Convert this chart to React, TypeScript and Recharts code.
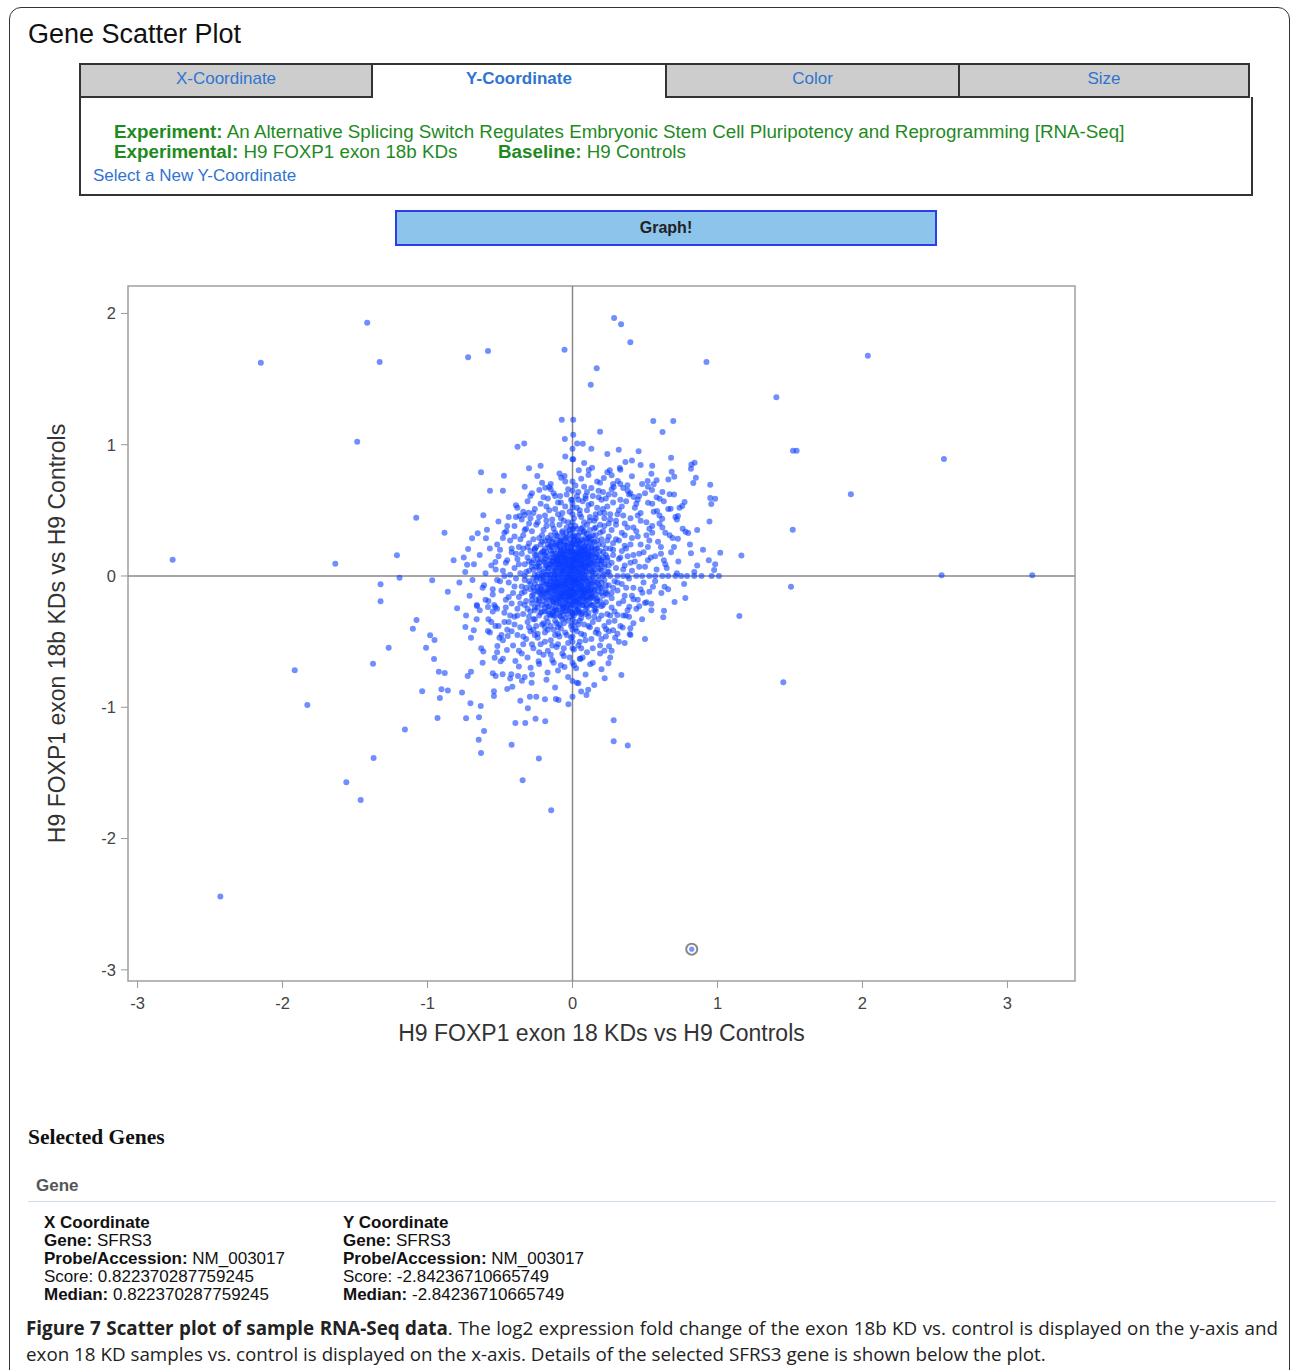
import React from 'react';
import { ScatterChart, Scatter, XAxis, YAxis, ReferenceLine, ReferenceArea, Label } from 'recharts';

const FONT = "'Liberation Sans', Arial, Helvetica, sans-serif";

const xTicks = [-3, -2, -1, 0, 1, 2, 3];
const yTicks = [-3, -2, -1, 0, 1, 2];
const xDomain: [number, number] = [-3.066, 3.466];
const yDomain: [number, number] = [-3.085, 2.209];
const xAxisTitle = 'H9 FOXP1 exon 18 KDs vs H9 Controls';
const yAxisTitle = 'H9 FOXP1 exon 18b KDs vs H9 Controls';
const tabLabels = ['X-Coordinate', 'Y-Coordinate', 'Color', 'Size'];

// Outliers
const outliersUpper: [number, number][] = [
  [-1.416,1.93],[-2.15,1.625],[-1.33,1.63],[-0.72,1.666],[-0.583,1.714],[-0.055,1.724],[-1.485,1.023],[-2.758,0.124],[-1.636,0.094],[-1.211,0.158],[-1.078,0.444],[-0.883,0.33],[-0.074,1.19],[0.005,1.19],[-0.053,1.043],[0.005,1.076],[-0.379,0.985],[-0.333,1.01],[0.005,0.889],[-0.631,0.79],[-0.473,0.764],[-0.569,0.65],[-0.48,0.65],[-0.243,0.762],[-0.078,0.749],[-0.055,0.762],[-0.615,0.462],[-0.511,0.416],[-0.39,0.538],[-0.693,0.287],[-0.72,0.206],[-0.727,0.086],[-0.654,0.325],[-0.597,0.287],[-0.59,0.353],[-0.532,0.107],[-0.456,0.34],[-0.291,0.609],[-0.229,0.655],[-0.188,0.672],[-0.16,0.678],[-0.365,0.457],[-0.33,0.465],[-0.303,0.482],[-0.085,0.609],
  [0.287,1.965],[0.335,1.917],[0.399,1.78],[0.167,1.582],[0.126,1.457],[0.924,1.63],[2.037,1.678],[1.406,1.361],[0.557,1.18],[0.695,1.18],[0.621,1.097],[0.19,1.099],[0.032,1.01],[0.071,1.008],[0.319,0.962],[0.456,0.95],[1.521,0.955],[1.546,0.955],[2.562,0.891],[1.92,0.622],[1.519,0.353],[0.95,0.695],[0.95,0.594],[0.984,0.589],[0.957,0.548],[0.945,0.416],[1.019,0.178],[1.165,0.157],[0.817,0.173],[0.984,0.089],[0.977,0.046],[2.546,0.005],[3.171,0.005],[0.842,0.863],[0.817,0.817],[0.851,0.749],[0.833,0.708],[0.684,0.794],[0.702,0.756],[0.661,0.736],[0.773,0.564],[0.757,0.533],[0.738,0.52],[0.67,0.622],[0.86,0.35],[0.78,0.337],[0.798,0.327],[0.727,0.284],[0.619,0.437],[0.677,0.513],[0.727,0.457],[0.365,0.868],[0.47,0.845],[0.326,0.823],[0.257,0.805],[0.27,0.767],[0.216,0.746],[0.112,0.807],[0.135,0.825],[0.043,0.805],[0.544,0.779],[0.518,0.724],[0.548,0.655],[0.56,0.698],[0.601,0.589],[0.521,0.558],[0.583,0.495],[0.379,0.691],[0.284,0.678],[0.312,0.724],[0.399,0.63],[0.422,0.602]
];

const outliersLower: [number, number][] = [
  [-1.324,-0.063],[-1.324,-0.193],[-1.193,-0.013],[-0.968,-0.033],[-1.076,-0.335],[-1.101,-0.401],[-1.268,-0.546],[-1.376,-0.668],[-1.916,-0.718],[-1.829,-0.982],[-1.156,-1.17],[-1.372,-1.386],[-1.56,-1.571],[-1.461,-1.706],[-2.429,-2.442],[-0.982,-0.452],[-0.952,-0.487],[-1.01,-0.546],[-0.955,-0.632],[-0.922,-0.729],[-0.881,-0.739],[-1.037,-0.878],[-0.904,-0.863],[-0.86,-0.873],[-0.915,-0.929],[-0.931,-1.081],[-0.762,-0.888],[-0.704,-0.97],[-0.633,-0.99],[-0.734,-1.084],[-0.645,-1.076],[-0.61,-1.18],[-0.647,-1.247],[-0.631,-1.348],[-0.42,-1.285],[-0.232,-1.391],[-0.344,-1.556],[-0.147,-1.785],[-0.394,-1.12],[-0.326,-1.12],[-0.255,-1.087],[-0.188,-1.107],[-0.308,-1.008],[-0.19,-0.939],[-0.115,-0.937],[-0.096,-0.944],[-0.542,-0.878],[-0.542,-0.914],[-0.415,-0.843],[-0.294,-0.919],[-0.723,-0.762],[-0.7,-0.729],[-0.615,-0.576],[-0.537,-0.622],[-0.496,-0.65],[-0.53,-0.762],[-0.482,-0.749],[-0.422,-0.749],[-0.376,-0.762],[-0.349,-0.797],[-0.282,-0.813],[-0.028,-0.977],[-0.739,-0.388],[-0.681,-0.414],[-0.661,-0.33],[-0.796,-0.246],[-0.734,-0.3],[-0.659,-0.228],[-0.583,-0.236],[-0.532,-0.236],[-0.583,-0.419],[-0.532,-0.381],[-0.504,-0.47],[-0.447,-0.457],[-0.518,-0.533],[-0.452,-0.564],[-0.394,-0.647],[-0.289,-0.698],[-0.234,-0.65],[-0.172,-0.736],[-0.055,-0.693],[0.03,-0.813],
  [1.507,-0.081],[1.151,-0.305],[1.454,-0.81],[0.778,-0.168],[0.704,-0.198],[0.5,-0.48],[0.337,-0.754],[0.284,-1.099],[0.284,-1.259],[0.381,-1.292],[0.222,-0.779],[0.108,-0.866],[0.096,-0.906],[0.041,-0.817],[0.248,-0.665],[0.122,-0.672],[0.055,-0.63],[0.025,-0.703],[0.19,-0.591],[0.252,-0.535],[0.294,-0.47],[0.394,-0.442],[0.399,-0.398],[0.346,-0.393],[0.626,-0.315],[0.631,-0.264],[0.544,-0.261],[0.544,-0.211],[0.5,-0.206],[0.613,-0.129],[0.555,-0.081],[0.635,-0.081],[0.482,-0.127],[0.42,-0.178],[0.392,-0.234],[0.367,-0.3],[0.31,-0.297],[0.28,-0.414],[0.232,-0.406]
];

// Cluster above the x axis
const clusterUpper: [number, number][] = [
  [-0.22,0.84],[-0.05,0.91],[0.08,0.86],[0.24,0.93],[0.41,0.88],[0.55,0.84],[0.68,0.90],[0.13,0.97],[-0.30,0.82],[0.82,0.85],[0.33,0.81],
  [-0.28,0.63],[-0.21,0.71],[-0.15,0.66],[-0.09,0.78],[-0.04,0.62],[0.02,0.69],[0.06,0.74],[0.09,0.61],[0.13,0.67],[0.17,0.72],[0.21,0.64],[0.24,0.79],[0.29,0.62],[0.33,0.70],[0.38,0.65],[0.41,0.76],[0.46,0.61],[0.52,0.68],[0.58,0.73],[-0.12,0.61],[0.11,0.77],[0.04,0.64],[-0.33,0.68],[0.27,0.66],[0.62,0.64],[0.18,0.60],
  [-0.44,0.45],[-0.38,0.52],[-0.35,0.43],[-0.31,0.57],[-0.27,0.48],[-0.24,0.41],[-0.22,0.55],[-0.19,0.46],[-0.17,0.59],[-0.14,0.43],[-0.12,0.51],[-0.10,0.47],[-0.08,0.56],[-0.06,0.42],[-0.05,0.53],[-0.02,0.49],[-0.01,0.58],[0.01,0.44],[0.03,0.52],[0.05,0.47],[0.07,0.57],[0.08,0.41],[0.10,0.50],[0.12,0.45],[0.13,0.55],[0.15,0.42],[0.17,0.52],[0.19,0.48],[0.20,0.58],[0.22,0.44],[0.24,0.53],[0.26,0.47],[0.28,0.56],[0.30,0.42],[0.32,0.50],[0.35,0.46],[0.37,0.57],[0.40,0.44],[0.43,0.52],[0.47,0.48],[0.51,0.41],[0.55,0.55],[0.60,0.46],[0.66,0.51],[0.72,0.43],[-0.16,0.50],[0.09,0.59],[0.25,0.40],[-0.29,0.44],[0.45,0.58],[0.06,0.45],[-0.03,0.41],[0.16,0.47],[0.34,0.53],
  [-0.52,0.24],[-0.47,0.33],[-0.43,0.27],[-0.40,0.38],[-0.37,0.22],[-0.34,0.31],[-0.32,0.36],[-0.30,0.25],[-0.28,0.34],[-0.26,0.21],[-0.25,0.39],[-0.23,0.29],[-0.22,0.24],[-0.20,0.35],[-0.19,0.27],[-0.18,0.38],[-0.16,0.22],[-0.15,0.31],[-0.14,0.26],[-0.13,0.36],[-0.11,0.23],[-0.10,0.30],[-0.09,0.39],[-0.08,0.27],[-0.07,0.34],[-0.06,0.21],[-0.05,0.29],[-0.04,0.37],[-0.03,0.25],[-0.02,0.32],[-0.01,0.22],[0.00,0.35],[0.01,0.28],[0.02,0.38],[0.03,0.24],[0.04,0.31],[0.05,0.21],[0.06,0.36],[0.07,0.27],[0.08,0.33],[0.09,0.23],[0.10,0.39],[0.11,0.29],[0.12,0.35],[0.13,0.22],[0.14,0.31],[0.15,0.26],[0.16,0.37],[0.18,0.24],[0.19,0.33],[0.20,0.28],[0.22,0.38],[0.23,0.21],[0.25,0.30],[0.27,0.35],[0.28,0.25],[0.30,0.39],[0.32,0.27],[0.34,0.33],[0.36,0.23],[0.38,0.37],[0.41,0.29],[0.44,0.34],[0.47,0.24],[0.51,0.31],[0.55,0.38],[0.59,0.26],[0.64,0.33],[0.70,0.22],[0.76,0.36],[-0.17,0.29],[-0.12,0.33],[-0.06,0.26],[0.02,0.30],[0.07,0.37],[0.13,0.28],[0.17,0.21],[0.21,0.34],[-0.21,0.31],[-0.09,0.24],[-0.01,0.38],[0.04,0.26],[0.10,0.32],[0.15,0.36],[-0.27,0.28],[0.24,0.27],[-0.04,0.33],[0.08,0.21],[0.19,0.39],[-0.14,0.39],
  [-0.56,0.08],[-0.51,0.15],[-0.48,0.04],[-0.45,0.12],[-0.42,0.18],[-0.40,0.06],[-0.38,0.13],[-0.36,0.02],[-0.35,0.17],[-0.33,0.09],[-0.31,0.14],[-0.30,0.04],[-0.29,0.19],[-0.28,0.07],[-0.27,0.12],[-0.26,0.01],[-0.25,0.16],[-0.24,0.09],[-0.23,0.05],[-0.22,0.13],[-0.21,0.18],[-0.20,0.03],[-0.19,0.10],[-0.18,0.15],[-0.17,0.06],[-0.16,0.12],[-0.15,0.01],[-0.15,0.19],[-0.14,0.08],[-0.13,0.14],[-0.12,0.04],[-0.12,0.17],[-0.11,0.10],[-0.10,0.06],[-0.10,0.15],[-0.09,0.02],[-0.08,0.12],[-0.08,0.19],[-0.07,0.08],[-0.06,0.14],[-0.06,0.04],[-0.05,0.17],[-0.04,0.10],[-0.04,0.01],[-0.03,0.13],[-0.02,0.07],[-0.02,0.18],[-0.01,0.04],[0.00,0.11],[0.00,0.16],[0.01,0.02],[0.02,0.09],[0.02,0.14],[0.03,0.06],[0.04,0.18],[0.04,0.11],[0.05,0.03],[0.06,0.15],[0.06,0.08],[0.07,0.12],[0.08,0.01],[0.08,0.17],[0.09,0.06],[0.10,0.13],[0.11,0.09],[0.11,0.19],[0.12,0.03],[0.13,0.15],[0.14,0.07],[0.15,0.11],[0.16,0.02],[0.16,0.17],[0.17,0.09],[0.18,0.14],[0.19,0.05],[0.20,0.12],[0.21,0.18],[0.22,0.07],[0.24,0.14],[0.25,0.03],[0.27,0.10],[0.28,0.16],[0.30,0.06],[0.32,0.13],[0.34,0.19],[0.36,0.08],[0.38,0.15],[0.41,0.04],[0.43,0.11],[0.46,0.17],[0.50,0.07],[0.54,0.14],[0.58,0.05],[0.63,0.12],[0.68,0.18],[-0.19,0.16],[-0.17,0.01],[-0.14,0.11],[-0.11,0.05],[-0.09,0.16],[-0.07,0.03],[-0.05,0.09],[-0.03,0.19],[-0.01,0.13],[0.01,0.08],[0.03,0.16],[0.05,0.12],[0.07,0.05],[0.09,0.10],[0.10,0.18],[0.12,0.08],[0.14,0.16],[-0.06,0.11],[-0.02,0.03],[0.01,0.12],[0.04,0.07],[-0.08,0.07],[-0.13,0.02],[-0.03,0.05],[0.06,0.19],[-0.10,0.12],[0.03,0.01],[-0.05,0.14],[0.00,0.06],[-0.16,0.09],[0.08,0.14],[-0.12,0.13],[0.13,0.04],[-0.07,0.17],[0.02,0.18],[-0.01,0.09],[-0.04,0.06],[0.05,0.16],[-0.09,0.09],[0.11,0.14],[-0.02,0.11],[0.07,0.09],
  [-0.82,0.12],[-0.74,0.03],[-0.68,0.09],[-0.64,0.16],[-0.60,0.02],[-0.57,0.21],[-0.53,0.05],[-0.75,0.14],
  [0.52,0.22],[0.61,0.17],[0.65,0.06],[0.69,0.29],[0.73,0.11],[0.81,0.24],[0.86,0.08],[0.90,0.20],[0.62,0.37],[0.72,0.02],[0.55,0.33],[0.84,0.03],[0.94,0.12]
];

// Cluster below the x axis
const clusterLower: [number, number][] = [
  [-0.61,-0.07],[-0.55,-0.14],[-0.52,-0.03],[-0.49,-0.11],[-0.46,-0.18],[-0.44,-0.05],[-0.41,-0.13],[-0.39,-0.02],[-0.37,-0.16],[-0.35,-0.08],[-0.33,-0.12],[-0.32,-0.19],[-0.30,-0.04],[-0.29,-0.10],[-0.28,-0.15],[-0.26,-0.06],[-0.25,-0.18],[-0.24,-0.01],[-0.23,-0.12],[-0.22,-0.08],[-0.21,-0.15],[-0.20,-0.03],[-0.19,-0.11],[-0.18,-0.17],[-0.17,-0.06],[-0.16,-0.13],[-0.15,-0.02],[-0.14,-0.09],[-0.14,-0.19],[-0.13,-0.05],[-0.12,-0.14],[-0.11,-0.08],[-0.10,-0.02],[-0.10,-0.17],[-0.09,-0.11],[-0.08,-0.05],[-0.07,-0.15],[-0.07,-0.01],[-0.06,-0.09],[-0.05,-0.18],[-0.05,-0.04],[-0.04,-0.12],[-0.03,-0.07],[-0.02,-0.16],[-0.02,-0.02],[-0.01,-0.10],[0.00,-0.05],[0.00,-0.14],[0.01,-0.19],[0.02,-0.08],[0.03,-0.03],[0.03,-0.13],[0.04,-0.17],[0.05,-0.06],[0.06,-0.11],[0.07,-0.02],[0.07,-0.15],[0.08,-0.08],[0.09,-0.18],[0.10,-0.04],[0.11,-0.12],[0.12,-0.07],[0.13,-0.16],[0.14,-0.01],[0.15,-0.10],[0.16,-0.14],[0.17,-0.05],[0.19,-0.19],[0.20,-0.09],[0.22,-0.03],[0.23,-0.13],[0.25,-0.07],[0.27,-0.17],[0.29,-0.04],[0.31,-0.11],[0.34,-0.06],[0.36,-0.15],[0.39,-0.02],[0.42,-0.09],[0.45,-0.18],[0.49,-0.05],[0.53,-0.12],[-0.27,-0.02],[-0.23,-0.19],[-0.20,-0.07],[-0.17,-0.10],[-0.15,-0.16],[-0.12,-0.03],[-0.11,-0.18],[-0.09,-0.07],[-0.08,-0.13],[-0.06,-0.03],[-0.04,-0.09],[-0.03,-0.18],[-0.01,-0.05],[0.01,-0.12],[0.02,-0.01],[0.04,-0.09],[0.05,-0.15],[0.06,-0.04],[0.08,-0.12],[0.10,-0.16],[0.11,-0.06],[0.13,-0.10],[0.15,-0.04],[0.18,-0.12],[-0.13,-0.11],[-0.10,-0.09],[-0.06,-0.13],[-0.03,-0.01],[-0.01,-0.15],[0.02,-0.06],[0.04,-0.02],[-0.08,-0.17],[-0.05,-0.08],[0.00,-0.09],[0.06,-0.08],[-0.14,-0.06],[-0.02,-0.11],[0.09,-0.03],[-0.18,-0.04],[0.12,-0.14],[-0.07,-0.06],[0.03,-0.16],[-0.04,-0.15],[0.07,-0.10],[-0.10,-0.13],[0.01,-0.03],[-0.16,-0.18],[0.17,-0.17],[-0.21,-0.11],[0.21,-0.15],[-0.12,-0.07],[0.09,-0.13],
  [-0.64,-0.26],[-0.58,-0.33],[-0.54,-0.22],[-0.51,-0.38],[-0.47,-0.28],[-0.44,-0.35],[-0.42,-0.21],[-0.40,-0.31],[-0.38,-0.25],[-0.36,-0.39],[-0.34,-0.29],[-0.33,-0.22],[-0.31,-0.35],[-0.29,-0.27],[-0.28,-0.21],[-0.27,-0.33],[-0.25,-0.38],[-0.24,-0.24],[-0.23,-0.30],[-0.21,-0.22],[-0.20,-0.36],[-0.19,-0.27],[-0.18,-0.32],[-0.16,-0.23],[-0.15,-0.38],[-0.14,-0.29],[-0.13,-0.21],[-0.12,-0.34],[-0.11,-0.26],[-0.10,-0.39],[-0.09,-0.23],[-0.08,-0.31],[-0.07,-0.27],[-0.06,-0.36],[-0.05,-0.21],[-0.04,-0.29],[-0.03,-0.34],[-0.02,-0.25],[-0.01,-0.38],[0.00,-0.22],[0.01,-0.30],[0.02,-0.35],[0.03,-0.26],[0.05,-0.21],[0.06,-0.32],[0.07,-0.28],[0.08,-0.37],[0.10,-0.24],[0.11,-0.31],[0.13,-0.22],[0.14,-0.35],[0.16,-0.27],[0.18,-0.33],[0.20,-0.23],[0.22,-0.38],[0.24,-0.29],[0.27,-0.24],[0.29,-0.34],[0.32,-0.21],[0.35,-0.30],[0.38,-0.26],[0.42,-0.36],[0.46,-0.23],[-0.22,-0.28],[-0.17,-0.35],[-0.13,-0.30],[-0.09,-0.37],[-0.06,-0.24],[-0.03,-0.22],[0.00,-0.33],[0.04,-0.37],[0.09,-0.29],[0.12,-0.39],[0.17,-0.22],[-0.26,-0.26],[-0.19,-0.39],[-0.07,-0.33],[0.02,-0.28],[0.07,-0.22],[-0.12,-0.25],[0.15,-0.31],[-0.30,-0.31],[0.25,-0.35],[-0.16,-0.29],[-0.01,-0.27],
  [-0.70,-0.47],[-0.63,-0.55],[-0.57,-0.43],[-0.52,-0.58],[-0.48,-0.49],[-0.45,-0.41],[-0.41,-0.53],[-0.38,-0.45],[-0.35,-0.59],[-0.32,-0.48],[-0.29,-0.42],[-0.27,-0.55],[-0.24,-0.47],[-0.22,-0.52],[-0.19,-0.43],[-0.17,-0.57],[-0.15,-0.49],[-0.13,-0.41],[-0.11,-0.54],[-0.09,-0.46],[-0.07,-0.59],[-0.05,-0.43],[-0.03,-0.51],[-0.01,-0.47],[0.01,-0.56],[0.03,-0.42],[0.05,-0.50],[0.08,-0.45],[0.10,-0.58],[0.13,-0.48],[0.16,-0.43],[0.19,-0.53],[0.23,-0.46],[0.27,-0.57],[0.31,-0.44],[0.36,-0.51],[-0.20,-0.60],[-0.34,-0.52],[-0.10,-0.44],[0.06,-0.55],[-0.26,-0.45],[-0.14,-0.53],[0.00,-0.41],[0.20,-0.48],
  [-0.62,-0.66],[-0.55,-0.74],[-0.48,-0.63],[-0.43,-0.78],[-0.37,-0.69],[-0.31,-0.62],[-0.28,-0.75],[-0.23,-0.67],[-0.18,-0.79],[-0.14,-0.64],[-0.10,-0.72],[-0.06,-0.61],[-0.03,-0.77],[0.01,-0.68],[0.05,-0.63],[0.09,-0.75],[0.14,-0.66],[0.20,-0.71],[0.26,-0.62],[-0.33,-0.77],[-0.08,-0.68],
  [-0.45,-0.86],[-0.25,-0.92],[-0.12,-0.85],[0.06,-0.88],[-0.36,-0.95],[0.15,-0.83],
  [-0.78,-0.05],[-0.71,-0.15],[-0.66,-0.22],[-0.62,-0.09],[-0.58,-0.19],[-0.55,-0.27],[-0.69,-0.03],[-0.86,-0.12],
  [0.57,-0.04],[0.77,-0.06],[0.66,-0.10]
];

// Dense core of the cloud (estimated)
const coreUpper: [number, number][] = [
  [-0.27,0.05],[-0.24,0.13],[-0.21,0.02],[-0.19,0.21],[-0.18,0.08],[-0.16,0.27],[-0.15,0.14],[-0.14,0.04],[-0.13,0.19],[-0.12,0.09],[-0.11,0.31],[-0.11,0.15],[-0.10,0.01],[-0.09,0.22],[-0.09,0.11],[-0.08,0.05],[-0.08,0.26],[-0.07,0.15],[-0.07,0.33],[-0.06,0.07],[-0.06,0.19],[-0.05,0.02],[-0.05,0.24],[-0.04,0.13],[-0.04,0.29],[-0.03,0.08],[-0.03,0.21],[-0.02,0.15],[-0.02,0.35],[-0.01,0.06],[-0.01,0.25],[0.00,0.01],[0.00,0.19],[0.01,0.13],[0.01,0.31],[0.02,0.05],[0.02,0.23],[0.03,0.11],[0.03,0.27],[0.04,0.03],[0.04,0.17],[0.05,0.09],[0.05,0.33],[0.06,0.21],[0.06,0.13],[0.07,0.02],[0.07,0.25],[0.08,0.10],[0.08,0.18],[0.09,0.29],[0.09,0.04],[0.10,0.15],[0.11,0.22],[0.11,0.07],[0.12,0.12],[0.12,0.30],[0.13,0.18],[0.14,0.03],[0.14,0.25],[0.15,0.09],[0.16,0.14],[0.17,0.27],[0.18,0.06],[0.19,0.19],[0.20,0.11],[0.21,0.24],[0.22,0.01],[0.23,0.16],[0.25,0.08],[0.26,0.21],[-0.25,0.22],[-0.23,0.07],[-0.22,0.17],[-0.20,0.11],[-0.17,0.03],[-0.17,0.24],[-0.14,0.17],[-0.13,0.28],[-0.10,0.20],[-0.08,0.01],[-0.06,0.30],[-0.05,0.11],[-0.03,0.02],[-0.02,0.28],[0.00,0.24],[0.01,0.04],[0.02,0.17],[0.03,0.36],[0.04,0.22],[0.05,0.06],[0.06,0.28],[0.07,0.16],[0.08,0.34],[0.10,0.08],[0.10,0.25],[0.12,0.16],[0.13,0.10],[0.15,0.20],[0.16,0.31],[0.18,0.12],[-0.26,0.16],[-0.21,0.26],[-0.19,0.06],[-0.15,0.23],[-0.12,0.06],[-0.09,0.17],[-0.07,0.10],[-0.04,0.19],[-0.01,0.17],[0.02,0.12],[0.04,0.27],[0.06,0.02],[0.09,0.20],[0.11,0.11],[-0.18,0.18],[-0.11,0.25],[-0.06,0.23],[-0.02,0.09],[0.03,0.19],[0.07,0.07],[-0.15,0.09],[0.13,0.21],[-0.28,0.10],[0.20,0.04],[-0.24,0.01],[0.24,0.12],
  [-0.23,0.10],[-0.20,0.19],[-0.18,0.01],[-0.16,0.06],[-0.14,0.22],[-0.13,0.11],[-0.12,0.01],[-0.10,0.09],[-0.09,0.27],[-0.08,0.14],[-0.07,0.04],[-0.06,0.16],[-0.05,0.06],[-0.04,0.23],[-0.03,0.15],[-0.02,0.01],[-0.01,0.20],[0.00,0.08],[0.01,0.27],[0.02,0.15],[0.03,0.03],[0.04,0.13],[0.05,0.24],[0.06,0.10],[0.07,0.19],[0.08,0.06],[0.09,0.14],[0.10,0.03],[0.11,0.17],[0.12,0.26],[0.14,0.12],[0.15,0.05],[0.17,0.16],[0.19,0.09],[0.21,0.14],[0.22,0.09],[-0.11,0.12],[0.05,0.15],[0.02,0.07],[0.08,0.22],[-0.19,0.13],[0.16,0.21],[-0.08,0.20],[-0.12,0.24],[0.10,0.28],[-0.26,0.20],[0.24,0.03],[-0.25,0.07]
];

const coreLower: [number, number][] = [
  [-0.29,-0.06],[-0.27,-0.14],[-0.25,-0.03],[-0.24,-0.21],[-0.22,-0.10],[-0.21,-0.27],[-0.20,-0.01],[-0.19,-0.16],[-0.18,-0.06],[-0.17,-0.23],[-0.16,-0.09],[-0.15,-0.30],[-0.14,-0.14],[-0.13,-0.02],[-0.13,-0.20],[-0.12,-0.10],[-0.11,-0.26],[-0.11,-0.05],[-0.10,-0.15],[-0.09,-0.21],[-0.09,-0.03],[-0.08,-0.10],[-0.08,-0.28],[-0.07,-0.18],[-0.06,-0.06],[-0.06,-0.23],[-0.05,-0.13],[-0.05,-0.32],[-0.04,-0.02],[-0.04,-0.19],[-0.03,-0.10],[-0.03,-0.26],[-0.02,-0.05],[-0.02,-0.15],[-0.01,-0.22],[-0.01,-0.01],[0.00,-0.11],[0.00,-0.29],[0.01,-0.07],[0.01,-0.17],[0.02,-0.24],[0.02,-0.03],[0.03,-0.12],[0.04,-0.20],[0.04,-0.06],[0.05,-0.27],[0.05,-0.10],[0.06,-0.16],[0.07,-0.04],[0.07,-0.22],[0.08,-0.13],[0.09,-0.07],[0.09,-0.25],[0.10,-0.18],[0.11,-0.02],[0.12,-0.11],[0.12,-0.21],[0.13,-0.06],[0.14,-0.15],[0.15,-0.26],[0.16,-0.08],[0.17,-0.19],[0.18,-0.03],[0.20,-0.13],[0.21,-0.22],[0.23,-0.07],[-0.26,-0.24],[-0.23,-0.17],[-0.21,-0.05],[-0.19,-0.24],[-0.17,-0.12],[-0.15,-0.04],[-0.14,-0.25],[-0.12,-0.17],[-0.10,-0.07],[-0.09,-0.30],[-0.07,-0.13],[-0.05,-0.05],[-0.04,-0.24],[-0.02,-0.12],[-0.01,-0.31],[0.01,-0.14],[0.03,-0.05],[0.04,-0.28],[0.06,-0.12],[0.08,-0.20],[0.10,-0.10],[0.11,-0.28],[0.13,-0.17],[0.15,-0.11],[-0.28,-0.18],[-0.24,-0.08],[-0.20,-0.19],[-0.16,-0.02],[-0.13,-0.08],[-0.11,-0.21],[-0.08,-0.15],[-0.06,-0.01],[-0.03,-0.16],[0.00,-0.02],[0.02,-0.19],[0.05,-0.02],[0.07,-0.17],[0.09,-0.11],[0.12,-0.03],[-0.18,-0.13],[-0.07,-0.25],[0.03,-0.23],[0.14,-0.22],[-0.12,-0.30],[0.19,-0.09],[-0.22,-0.14],[0.16,-0.25],[-0.26,-0.11],
  [-0.22,-0.02],[-0.20,-0.13],[-0.18,-0.21],[-0.16,-0.07],[-0.14,-0.17],[-0.13,-0.27],[-0.12,-0.12],[-0.10,-0.04],[-0.09,-0.19],[-0.08,-0.08],[-0.07,-0.22],[-0.06,-0.11],[-0.05,-0.27],[-0.04,-0.06],[-0.03,-0.14],[-0.02,-0.21],[-0.01,-0.08],[0.00,-0.17],[0.01,-0.04],[0.02,-0.13],[0.03,-0.20],[0.04,-0.10],[0.05,-0.18],[0.06,-0.07],[0.07,-0.13],[0.08,-0.02],[0.09,-0.16],[0.10,-0.22],[0.11,-0.09],[0.13,-0.13],[0.14,-0.05],[0.16,-0.18],[0.18,-0.07],[-0.24,-0.12],[0.20,-0.05],[-0.06,-0.16],[-0.03,-0.03],[-0.15,-0.10],[0.12,-0.17],[0.04,-0.25],[-0.17,-0.27],[0.06,-0.29],[-0.27,-0.09],[0.23,-0.11]
];

// Middle ring of the cloud (estimated)
const ringUpper: [number, number][] = [
  [-0.48,0.29],[-0.45,0.38],[-0.42,0.21],[-0.39,0.45],[-0.36,0.28],[-0.34,0.49],[-0.31,0.22],[-0.30,0.40],[-0.26,0.51],[-0.23,0.45],[-0.20,0.60],[-0.18,0.53],[-0.13,0.63],[-0.10,0.56],[-0.07,0.48],[-0.03,0.66],[0.00,0.55],[0.03,0.61],[0.05,0.50],[0.08,0.68],[0.11,0.54],[0.14,0.61],[0.16,0.44],[0.18,0.65],[0.21,0.51],[0.23,0.59],[0.26,0.43],[0.28,0.70],[0.31,0.47],[0.33,0.58],[0.36,0.40],[0.39,0.62],[0.42,0.37],[0.44,0.55],[0.47,0.42],[0.50,0.63],[0.53,0.36],[0.56,0.49],[0.60,0.40],[0.63,0.57],[0.67,0.31],[0.71,0.45],[0.36,0.31],[0.40,0.24],[0.45,0.30],[0.49,0.18],[0.53,0.27],[0.57,0.15],[0.61,0.22],[0.64,0.09],[0.33,0.14],[0.37,0.21],[0.42,0.16],[0.30,0.28],[0.28,0.20],[0.35,0.05],[0.40,0.10],[0.46,0.07],[0.52,0.12],[-0.50,0.20],[-0.46,0.10],[-0.43,0.01],[-0.39,0.17],[-0.37,0.09],[-0.34,0.21],[-0.32,0.03],[-0.30,0.11],[-0.33,0.35],[-0.40,0.30],[0.25,0.62],[0.19,0.71],[0.10,0.64],[-0.05,0.72],[-0.15,0.70],[0.35,0.67],[0.48,0.70],[0.58,0.60],[0.70,0.62],[0.04,0.58],[-0.08,0.44],[0.22,0.48],[0.12,0.42],[-0.18,0.42],[0.45,0.46]
];

const ringLower: [number, number][] = [
  [-0.55,-0.10],[-0.52,-0.25],[-0.50,-0.04],[-0.47,-0.35],[-0.44,-0.16],[-0.42,-0.42],[-0.40,-0.08],[-0.38,-0.30],[-0.36,-0.21],[-0.34,-0.46],[-0.33,-0.03],[-0.31,-0.25],[-0.30,-0.39],[-0.28,-0.52],[-0.26,-0.33],[-0.24,-0.44],[-0.21,-0.37],[-0.19,-0.50],[-0.17,-0.41],[-0.15,-0.60],[-0.12,-0.45],[-0.10,-0.52],[-0.08,-0.40],[-0.06,-0.55],[-0.04,-0.45],[-0.02,-0.62],[0.00,-0.50],[0.02,-0.40],[0.04,-0.53],[0.06,-0.44],[0.09,-0.49],[0.11,-0.38],[0.14,-0.55],[0.17,-0.41],[0.20,-0.30],[0.23,-0.20],[0.25,-0.42],[0.27,-0.13],[0.29,-0.27],[0.31,-0.05],[0.33,-0.38],[0.35,-0.19],[0.37,-0.09],[0.39,-0.31],[0.41,-0.15],[0.44,-0.25],[0.47,-0.10],[0.51,-0.20],[0.48,-0.33],[0.40,-0.45],[0.32,-0.50],[0.22,-0.57],[-0.46,-0.24],[-0.43,-0.30],[-0.49,-0.45],[-0.56,-0.35],[-0.60,-0.18],[-0.37,-0.57],[-0.23,-0.58],[-0.13,-0.66],[0.07,-0.62],[-0.40,-0.37],[-0.27,-0.41],[-0.11,-0.36],[0.05,-0.34],[0.18,-0.44],[0.26,-0.30],[-0.35,-0.13],[-0.32,-0.09],[0.28,-0.09],[0.24,-0.14]
];

// Genes with a zero value on one of the two axes
const zeroAxisPoints: [number, number][] = [
  [0.05,0],[0.09,0],[0.14,0],[0.18,0],[0.21,0],[0.26,0],[0.31,0],[0.35,0],[0.38,0],[0.44,0],[0.48,0],[0.53,0],[0.57,0],[0.62,0],[0.66,0],[0.71,0],[0.75,0],[0.79,0],[0.84,0],[0.89,0],[0.96,0],[1.01,0],[-0.12,0],[-0.21,0],[-0.33,0],[-0.47,0],
  [0,0.72],[0,0.65],[0,0.58],[0,0.52],[0,0.47],[0,0.41],[0,0.36],[0,0.30],[0,0.24],[0,0.19],[0,0.13],[0,0.07],[0,-0.04],[0,-0.12],[0,-0.2],[0,-0.28],[0,-0.37],[0,-0.46],[0,-0.55],[0,-0.66],[0,-0.8],[0,-0.92],[0,0.89],[0,0.97]
];

const selectedGene: [number, number][] = [[0.822370287759245, -2.84236710665749]];

const xCoordInfo = { gene: 'SFRS3', probe: 'NM_003017', score: '0.822370287759245', median: '0.822370287759245' };
const yCoordInfo = { gene: 'SFRS3', probe: 'NM_003017', score: '-2.84236710665749', median: '-2.84236710665749' };

const toPts = (arr: [number, number][]) => arr.map(([x, y]) => ({ x, y }));
const genePoints = [
  ...toPts(outliersUpper),
  ...toPts(outliersLower),
  ...toPts(ringUpper),
  ...toPts(ringLower),
  ...toPts(clusterUpper),
  ...toPts(clusterLower),
  ...toPts(coreUpper),
  ...toPts(coreLower),
  ...toPts(zeroAxisPoints),
];
const selectedPoints = toPts(selectedGene);

const DOT_COLOR = '#0a3cff';

const GeneDot = (p: any) => (
  <circle cx={p.cx} cy={p.cy} r={3} fill={DOT_COLOR} fillOpacity={0.58} />
);

const SelectedDot = (p: any) => (
  <g>
    <circle cx={p.cx} cy={p.cy} r={5.5} fill="#fff" stroke="#8a8a8a" strokeWidth={2} />
    <circle cx={p.cx} cy={p.cy} r={2.6} fill={DOT_COLOR} fillOpacity={0.55} />
  </g>
);

const YTitle = (props: any) => {
  const vb = props.viewBox || { x: 68, y: 26, width: 60, height: 695 };
  const cx = vb.x - 11;
  const cy = vb.y + vb.height / 2;
  return (
    <text x={cx} y={cy} transform={`rotate(-90 ${cx} ${cy})`} textAnchor="middle" dominantBaseline="central"
      fontSize={23} fill="#333" fontFamily={FONT}>{yAxisTitle}</text>
  );
};

const XTitle = (props: any) => {
  const vb = props.viewBox || { x: 128, y: 721, width: 947, height: 50 };
  const cx = vb.x + vb.width / 2;
  const cy = vb.y + 52;
  return (
    <text x={cx} y={cy} textAnchor="middle" dominantBaseline="central" fontSize={23} fill="#333" fontFamily={FONT}>{xAxisTitle}</text>
  );
};

const tabEdges = [79, 371, 665, 958, 1250];

const abs = (s: React.CSSProperties): React.CSSProperties => ({ position: 'absolute', ...s });

const green = '#1f8a1f';
const blue = '#2f74cf';

export default function App() {
  return (
    <div style={abs({ left: 0, top: 0, width: 1290, height: 1370, overflow: 'hidden', background: '#fff', fontFamily: FONT })}>
      <div style={abs({ left: 9, top: 7, width: 1281, height: 1420, border: '1.5px solid #333', borderRadius: 12, boxSizing: 'border-box' })} />
      <div style={abs({ left: 28, top: 19, fontSize: 27, lineHeight: '30px', color: '#111' })}>Gene Scatter Plot</div>

      {tabLabels.map((t, i) => (
        <div key={t} style={abs({
          left: tabEdges[i], top: 63, width: tabEdges[i + 1] - tabEdges[i] + (i === 3 ? 0 : 2), height: 35,
          boxSizing: 'border-box', borderTop: '2px solid #333', borderLeft: '2px solid #333', borderRight: '2px solid #333',
          borderBottom: i === 1 ? 'none' : '2px solid #333',
          background: i === 1 ? '#fff' : '#cdcdcd', color: blue, fontSize: 17, fontWeight: i === 1 ? 'bold' : 'normal',
          textAlign: 'center', lineHeight: '28px',
        })}>{t}</div>
      ))}
      <div style={abs({ left: 79, top: 97, width: 1174, height: 99, boxSizing: 'border-box', borderLeft: '2px solid #333', borderRight: '2px solid #333', borderBottom: '2px solid #333' })} />
      <div style={abs({ left: 114, top: 122, fontSize: 18.8, lineHeight: '20px', color: green, whiteSpace: 'nowrap' })}>
        <b>Experiment:</b> An Alternative Splicing Switch Regulates Embryonic Stem Cell Pluripotency and Reprogramming [RNA-Seq]
      </div>
      <div style={abs({ left: 114, top: 142, fontSize: 18.8, lineHeight: '20px', color: green, whiteSpace: 'nowrap' })}>
        <b>Experimental:</b> H9 FOXP1 exon 18b KDs
      </div>
      <div style={abs({ left: 498, top: 142, fontSize: 18.8, lineHeight: '20px', color: green, whiteSpace: 'nowrap' })}>
        <b>Baseline:</b> H9 Controls
      </div>
      <div style={abs({ left: 93, top: 166, fontSize: 17, lineHeight: '20px', color: blue, whiteSpace: 'nowrap' })}>Select a New Y-Coordinate</div>

      <div style={abs({ left: 395, top: 210, width: 542, height: 36, boxSizing: 'border-box', border: '2px solid #2b3fe6', background: '#8cc4ec', textAlign: 'center', lineHeight: '32px', fontSize: 16, fontWeight: 'bold', color: '#222' })}>Graph!</div>

      <div style={abs({ left: 0, top: 260, width: 1290, height: 800 })}>
        <ScatterChart width={1290} height={800} margin={{ top: 26, right: 215, bottom: 29, left: 68 }}>
          <XAxis type="number" dataKey="x" domain={xDomain} ticks={xTicks} allowDataOverflow height={50}
            axisLine={false} tickLine={{ stroke: '#999' }} tickSize={7} tickMargin={9}
            tick={{ fill: '#444', fontSize: 16.5, fontFamily: FONT }}>
            <Label content={XTitle} />
          </XAxis>
          <YAxis type="number" dataKey="y" domain={yDomain} ticks={yTicks} allowDataOverflow width={60}
            axisLine={false} tickLine={{ stroke: '#999' }} tickSize={7} tickMargin={5}
            tick={{ fill: '#444', fontSize: 16.5, fontFamily: FONT }}>
            <Label content={YTitle} />
          </YAxis>
          <ReferenceArea x1={xDomain[0]} x2={xDomain[1]} y1={yDomain[0]} y2={yDomain[1]} fill="none" fillOpacity={0} stroke="#a0a0a0" strokeWidth={1.5} />
          <ReferenceLine x={0} stroke="#888" strokeWidth={1.5} />
          <ReferenceLine y={0} stroke="#888" strokeWidth={1.5} />
          <Scatter data={genePoints} shape={GeneDot} isAnimationActive={false} />
          <Scatter data={selectedPoints} shape={SelectedDot} isAnimationActive={false} />
        </ScatterChart>
      </div>

      <div style={abs({ left: 28, top: 1124, fontFamily: "'Liberation Serif', 'Times New Roman', serif", fontSize: 21.5, fontWeight: 'bold', lineHeight: '26px', color: '#111' })}>Selected Genes</div>
      <div style={abs({ left: 36, top: 1176, fontSize: 17, fontWeight: 'bold', lineHeight: '20px', color: '#555' })}>Gene</div>
      <div style={abs({ left: 28, top: 1201, width: 1248, height: 0, borderTop: '1.5px solid #cfdcea' })} />
      {[{ left: 44, title: 'X Coordinate', info: xCoordInfo }, { left: 343, title: 'Y Coordinate', info: yCoordInfo }].map((c) => (
        <div key={c.title} style={abs({ left: c.left, top: 1214, fontSize: 17, lineHeight: '18px', color: '#111', whiteSpace: 'nowrap' })}>
          <div><b>{c.title}</b></div>
          <div><b>Gene:</b> {c.info.gene}</div>
          <div><b>Probe/Accession:</b> {c.info.probe}</div>
          <div>Score: {c.info.score}</div>
          <div><b>Median:</b> {c.info.median}</div>
        </div>
      ))}

      <div style={abs({ left: 26, top: 1315, width: 1252, fontFamily: "'Open Sans', sans-serif", fontSize: 18.8, lineHeight: '26px', color: '#222', textAlign: 'justify', textAlignLast: 'justify', whiteSpace: 'nowrap' })}>
        <b>Figure 7 Scatter plot of sample RNA-Seq data</b>. The log2 expression fold change of the exon 18b KD vs. control is displayed on the y-axis and
      </div>
      <div style={abs({ left: 26, top: 1341, width: 1252, fontFamily: "'Open Sans', sans-serif", fontSize: 18.8, lineHeight: '26px', color: '#222', whiteSpace: 'nowrap' })}>
        exon 18 KD samples vs. control is displayed on the x-axis. Details of the selected SFRS3 gene is shown below the plot.
      </div>
    </div>
  );
}
